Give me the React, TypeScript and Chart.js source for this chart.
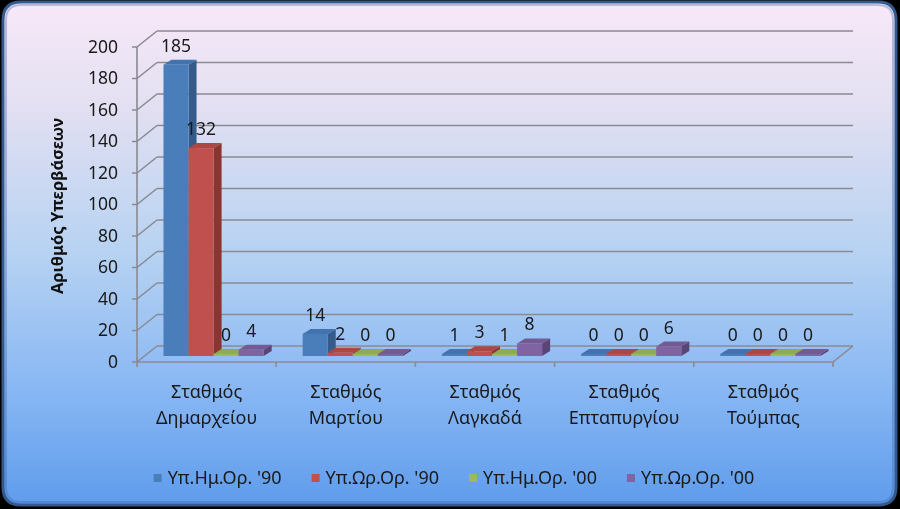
import React, { useEffect, useRef } from 'react';
import { Chart, registerables } from 'chart.js';

Chart.register(...registerables);

const categories: string[][] = [
  ['Σταθμός', 'Δημαρχείου'],
  ['Σταθμός', 'Μαρτίου'],
  ['Σταθμός', 'Λαγκαδά'],
  ['Σταθμός', 'Επταπυργίου'],
  ['Σταθμός', 'Τούμπας'],
];
const seriesNames = ["Υπ.Ημ.Ορ. '90", "Υπ.Ωρ.Ορ. '90", "Υπ.Ημ.Ορ. '00", "Υπ.Ωρ.Ορ. '00"];
const hmOr90 = [185, 14, 1, 0, 0];
const orOr90 = [132, 2, 3, 0, 0];
const hmOr00 = [0, 0, 1, 0, 0];
const orOr00 = [4, 0, 8, 6, 0];
const yTicks = [0, 20, 40, 60, 80, 100, 120, 140, 160, 180, 200];
const yTitle = 'Αριθμός Υπερβάσεων';

const frontColors = ['#4a7ebb', '#c0504d', '#9bbb59', '#8064a2'];
const sideColors = ['#345b8a', '#8a3532', '#6f873d', '#5a4576'];
const topColors = ['#4373ad', '#ad4744', '#8dab50', '#735a94'];

const FONT = '"Noto Sans", "DejaVu Sans", sans-serif';

export default function App() {
  const ref = useRef<HTMLCanvasElement | null>(null);

  useEffect(() => {
    const canvas = ref.current;
    if (!canvas) return;

    const BACK_DX = 20;
    const BACK_DY = -16;
    const SHIFT_X = 7;
    const SHIFT_Y = -6;
    const DEPTH_X = 8;
    const DEPTH_Y = -5;

    const roundRect = (ctx: CanvasRenderingContext2D, x: number, y: number, w: number, h: number, r: number) => {
      ctx.beginPath();
      ctx.moveTo(x + r, y);
      ctx.lineTo(x + w - r, y);
      ctx.quadraticCurveTo(x + w, y, x + w, y + r);
      ctx.lineTo(x + w, y + h - r);
      ctx.quadraticCurveTo(x + w, y + h, x + w - r, y + h);
      ctx.lineTo(x + r, y + h);
      ctx.quadraticCurveTo(x, y + h, x, y + h - r);
      ctx.lineTo(x, y + r);
      ctx.quadraticCurveTo(x, y, x + r, y);
      ctx.closePath();
    };

    const scene = {
      id: 'scene',
      beforeDraw(chart: any) {
        const ctx: CanvasRenderingContext2D = chart.ctx;
        const W = chart.width;
        const H = chart.height;
        ctx.save();
        ctx.fillStyle = '#000';
        ctx.fillRect(0, 0, W, H);
        // panel
        const g = ctx.createLinearGradient(0, 4, 0, H - 4);
        g.addColorStop(0, '#f7e8f8');
        g.addColorStop(0.2, '#e3e0f2');
        g.addColorStop(0.5, '#b6d2f2');
        g.addColorStop(0.78, '#86b6f3');
        g.addColorStop(1, '#5f9cec');
        roundRect(ctx, 3, 2, W - 7, H - 6, 18);
        ctx.fillStyle = g;
        ctx.fill();
        ctx.lineWidth = 3;
        ctx.strokeStyle = '#34598c';
        ctx.stroke();
        roundRect(ctx, 6, 5, W - 13, H - 12, 15);
        ctx.lineWidth = 2;
        ctx.strokeStyle = 'rgba(60,100,170,0.35)';
        ctx.stroke();

        const ca = chart.chartArea;
        const ys = chart.scales.y;
        const xs = chart.scales.x;
        const left = ca.left;
        const right = ca.right;
        const y0 = ys.getPixelForValue(0);

        ctx.strokeStyle = '#8a8a92';
        ctx.lineWidth = 1.6;
        // back wall gridlines + left wall diagonals + tick marks
        yTicks.forEach((t) => {
          const y = ys.getPixelForValue(t);
          ctx.beginPath();
          ctx.moveTo(left + BACK_DX, y + BACK_DY);
          ctx.lineTo(right + BACK_DX, y + BACK_DY);
          ctx.moveTo(left, y);
          ctx.lineTo(left + BACK_DX, y + BACK_DY);
          ctx.moveTo(left - 5, y);
          ctx.lineTo(left, y);
          ctx.stroke();
        });
        // y axis vertical
        ctx.beginPath();
        ctx.moveTo(left, ys.getPixelForValue(200));
        ctx.lineTo(left, y0);
        ctx.stroke();
        // floor
        ctx.beginPath();
        ctx.moveTo(left, y0);
        ctx.lineTo(right, y0);
        ctx.lineTo(right + BACK_DX, y0 + BACK_DY);
        ctx.stroke();
        // category tick marks
        const n = categories.length;
        const cw = (right - left) / n;
        for (let i = 0; i <= n; i++) {
          const x = left + i * cw;
          ctx.beginPath();
          ctx.moveTo(x, y0);
          ctx.lineTo(x, y0 + 5);
          ctx.stroke();
        }

        // y tick labels
        ctx.fillStyle = '#1a1a1a';
        ctx.font = `17.5px ${FONT}`;
        ctx.textAlign = 'right';
        ctx.textBaseline = 'middle';
        yTicks.forEach((t) => {
          ctx.fillText(String(t), left - 19, ys.getPixelForValue(t) + 1);
        });
        // x labels
        ctx.font = `18px ${FONT}`;
        ctx.textAlign = 'center';
        categories.forEach((lines, i) => {
          const cx = xs.getPixelForValue(i);
          lines.forEach((ln, k) => {
            ctx.fillText(ln, cx, y0 + 31 + k * 26);
          });
        });
        // y title
        ctx.save();
        ctx.translate(58, 206);
        ctx.rotate(-Math.PI / 2);
        ctx.font = `bold 16.5px ${FONT}`;
        ctx.textAlign = 'center';
        ctx.textBaseline = 'middle';
        ctx.fillStyle = '#111';
        ctx.fillText(yTitle, 0, 0);
        ctx.restore();

        // legend
        ctx.font = `18px ${FONT}`;
        ctx.textAlign = 'left';
        ctx.textBaseline = 'middle';
        const box = 8;
        const gap = 6;
        const spacing = 30;
        const widths = chart.data.datasets.map((d: any) => ctx.measureText(d.label).width);
        const total = widths.reduce((a: number, w: number) => a + box + gap + w, 0) + spacing * (widths.length - 1);
        let lx = 454 - total / 2;
        const ly = 478;
        chart.data.datasets.forEach((d: any, i: number) => {
          ctx.fillStyle = frontColors[i];
          ctx.fillRect(lx, ly - box / 2, box, box);
          ctx.fillStyle = '#1a1a1a';
          ctx.fillText(d.label, lx + box + gap, ly + 1);
          lx += box + gap + widths[i] + spacing;
        });
        ctx.restore();
      },
      afterDatasetsDraw(chart: any) {
        const ctx: CanvasRenderingContext2D = chart.ctx;
        const nd = chart.data.datasets.length;
        const metas = chart.data.datasets.map((_: any, i: number) => chart.getDatasetMeta(i));
        ctx.save();
        const labels: { x: number; y: number; v: number }[] = [];
        for (let c = 0; c < categories.length; c++) {
          for (let d = 0; d < nd; d++) {
            const el: any = metas[d].data[c];
            const v = chart.data.datasets[d].data[c];
            const x0 = el.x - el.width / 2 + SHIFT_X;
            const x1 = el.x + el.width / 2 + SHIFT_X;
            const yb = el.base + SHIFT_Y;
            let yt = el.y + SHIFT_Y;
            if (yb - yt < 2) yt = yb - 2;
            // side
            ctx.fillStyle = sideColors[d];
            ctx.beginPath();
            ctx.moveTo(x1, yt);
            ctx.lineTo(x1 + DEPTH_X, yt + DEPTH_Y);
            ctx.lineTo(x1 + DEPTH_X, yb + DEPTH_Y);
            ctx.lineTo(x1, yb);
            ctx.closePath();
            ctx.fill();
            // top
            ctx.fillStyle = topColors[d];
            ctx.beginPath();
            ctx.moveTo(x0, yt);
            ctx.lineTo(x1, yt);
            ctx.lineTo(x1 + DEPTH_X, yt + DEPTH_Y);
            ctx.lineTo(x0 + DEPTH_X, yt + DEPTH_Y);
            ctx.closePath();
            ctx.fill();
            // front
            ctx.fillStyle = frontColors[d];
            ctx.fillRect(x0, yt, x1 - x0, yb - yt);
            labels.push({ x: (x0 + x1) / 2, y: yt, v });
          }
        }
        ctx.fillStyle = '#1a1a1a';
        ctx.font = `17.5px ${FONT}`;
        ctx.textAlign = 'center';
        ctx.textBaseline = 'middle';
        labels.forEach((l) => ctx.fillText(String(l.v), l.x, l.y - 18));
        ctx.restore();
      },
    };

    const seriesData = [hmOr90, orOr90, hmOr00, orOr00];
    const chart = new Chart(canvas, {
      type: 'bar',
      data: {
        labels: categories.map((c) => c.join(' ')),
        datasets: seriesData.map((data, i) => ({
          label: seriesNames[i],
          data,
          backgroundColor: 'rgba(0,0,0,0)',
          borderWidth: 0,
          barPercentage: 1,
          categoryPercentage: 0.72,
        })),
      },
      options: {
        responsive: false,
        animation: false,
        devicePixelRatio: 1,
        layout: { padding: { left: 137, right: 67, top: 47, bottom: 147 } },
        scales: {
          x: { display: false },
          y: { display: false, min: 0, max: 200 },
        },
        plugins: {
          legend: { display: false },
          tooltip: { enabled: false },
          title: { display: false },
        },
      },
      plugins: [scene],
    });
    return () => chart.destroy();
  }, []);

  return (
    <div style={{ position: 'fixed', left: 0, top: 0, width: 900, height: 509 }}>
      <canvas ref={ref} width={900} height={509} style={{ display: 'block', width: 900, height: 509 }} />
    </div>
  );
}
